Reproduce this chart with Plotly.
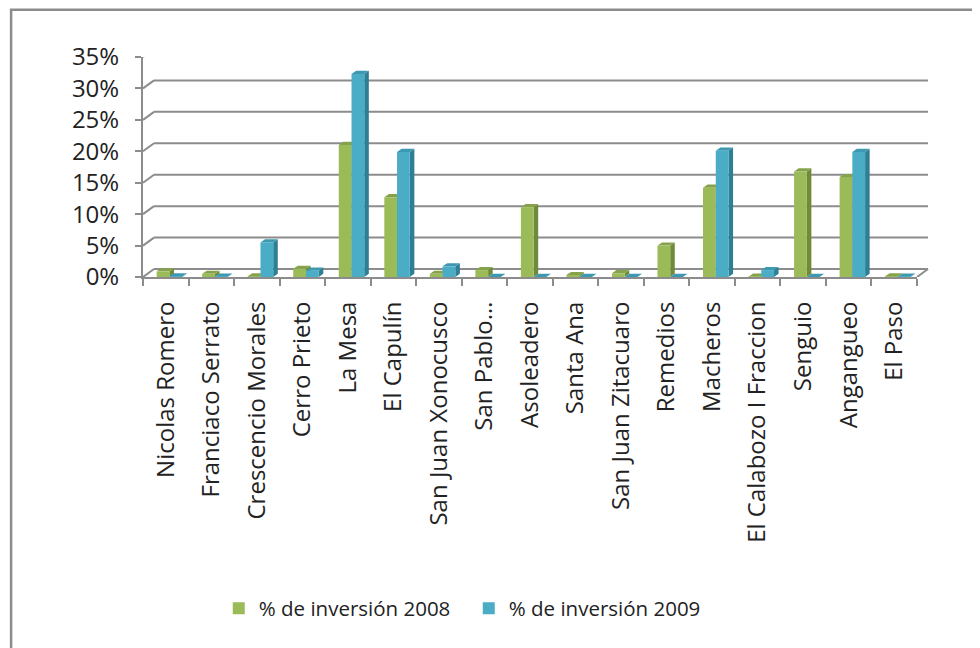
import plotly.graph_objects as go

categories = [
    "Nicolas Romero", "Franciaco Serrato", "Crescencio Morales", "Cerro Prieto",
    "La Mesa", "El Capulín", "San Juan Xonocusco", "San Pablo…", "Asoleadero",
    "Santa Ana", "San Juan Zitacuaro", "Remedios", "Macheros",
    "El Calabozo I Fraccion", "Senguio", "Angangueo", "El Paso",
]
inv_2008 = [0.009, 0.005, 0.001, 0.013, 0.210, 0.127, 0.005, 0.011, 0.111,
            0.003, 0.006, 0.050, 0.142, 0.0005, 0.168, 0.159, 0.001]
inv_2009 = [0.001, 0.0005, 0.055, 0.010, 0.323, 0.199, 0.017, 0.0, 0.0,
            0.0, 0.0, 0.0, 0.201, 0.011, 0.0, 0.199, 0.0005]
y_ticks = [0, 0.05, 0.10, 0.15, 0.20, 0.25, 0.30, 0.35]

series = [
    # name, values, offset, front, side, top
    ("% de inversión 2008", inv_2008, -0.20, "#9bbb59", "#6f8b3a", "#86a34c"),
    ("% de inversión 2009", inv_2009, 0.08, "#4bacc6", "#2e7f95", "#3d98b1"),
]
BAR_W = 0.28
DX, DY = 0.10, 0.005          # fake depth of the bars
GRID = "#8c8c8c"
FONT = "Open Sans"

# the page body has an 8px margin, so shift everything back by it
OFF = 8
# plot area in figure pixels
L, R, T, B = 143.3 - OFF, 916.7 - OFF, 56.7 - OFF, 276.7 - OFF


def px(x):
    return (x - OFF - L) / (R - L)


def py(y):
    return (B - (y - OFF)) / (B - T)


fig = go.Figure()
x = list(range(len(categories)))
for name, vals, off, front, side, top in series:
    fig.add_trace(go.Bar(
        x=x, y=vals, name=name, width=BAR_W, offset=off,
        marker=dict(color=front, line=dict(width=0)),
        hoverinfo="y+name",
    ))

shapes = []
# back wall gridlines + left wall diagonals
for v in y_ticks:
    shapes.append(dict(type="line", xref="paper", yref="y", layer="below",
                       x0=11 / (R - L), x1=1 + 11 / (R - L),
                       ysizemode="pixel", yanchor=v, y0=8, y1=8,
                       line=dict(color=GRID, width=2)))
    shapes.append(dict(type="line", xref="paper", yref="y", layer="below",
                       xsizemode="pixel", xanchor=0, x0=0, x1=11,
                       ysizemode="pixel", yanchor=v, y0=0, y1=8,
                       line=dict(color=GRID, width=2)))
# floor right edge
shapes.append(dict(type="line", xref="paper", yref="y", layer="below",
                   xsizemode="pixel", xanchor=1, x0=0, x1=11,
                   ysizemode="pixel", yanchor=0, y0=0, y1=8,
                   line=dict(color=GRID, width=2)))

# side and top faces of every bar
for name, vals, off, front, side, top in series:
    for i, v in enumerate(vals):
        xl = i + off
        xr = xl + BAR_W
        shapes.append(dict(
            type="path", xref="x", yref="y", layer="below",
            path=f"M{xr},0 L{xr},{v} L{xr + DX},{v + DY} L{xr + DX},{DY} Z",
            fillcolor=side, line=dict(width=0)))
        shapes.append(dict(
            type="path", xref="x", yref="y", layer="below",
            path=f"M{xl},{v} L{xr},{v} L{xr + DX},{v + DY} L{xl + DX},{v + DY} Z",
            fillcolor=top, line=dict(width=0)))

# outer chart frame
shapes.append(dict(type="rect", xref="paper", yref="paper",
                   x0=px(11.5), x1=px(1000), y0=py(9.5), y1=py(670),
                   line=dict(color="#8c8c8c", width=2.5)))

fig.update_layout(
    width=980, height=648,
    margin=dict(l=L, r=980 - R, t=T, b=648 - B),
    paper_bgcolor="white", plot_bgcolor="white",
    barmode="overlay",
    font=dict(family=FONT, size=24, color="#222222"),
    shapes=shapes,
    showlegend=True,
    legend=dict(
        orientation="h", x=px(219), xanchor="left",
        y=py(608), yanchor="middle",
        font=dict(size=20.5), itemwidth=30, entrywidth=205,
    ),
    xaxis=dict(
        range=[-0.5, len(categories) - 0.5],
        tickvals=x, ticktext=categories, tickangle=-90,
        ticks="", ticklabelstandoff=13,
        showgrid=False, zeroline=False,
        showline=True, linecolor=GRID, linewidth=2,
        minor=dict(tickvals=[i - 0.5 for i in range(len(categories) + 1)],
                   ticks="outside", ticklen=7, tickwidth=2, tickcolor=GRID,
                   showgrid=False),
    ),
    yaxis=dict(
        range=[0, 0.35], tickvals=y_ticks, tickformat=".0%",
        ticks="outside", ticklen=6, tickwidth=2, tickcolor=GRID,
        ticklabelstandoff=11,
        showgrid=False, zeroline=False,
        showline=True, linecolor=GRID, linewidth=2,
    ),
)

fig.write_html("out.html")
